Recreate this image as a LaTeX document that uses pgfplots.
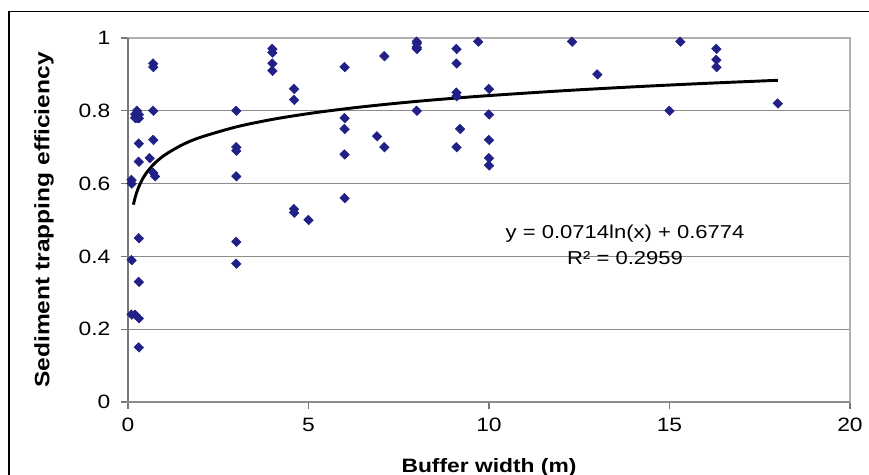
\documentclass[border=0pt]{standalone}
\usepackage{fontspec}
\setmainfont{Liberation Sans}[FakeStretch=1.18]
\usepackage{pgfplots}
\pgfplotsset{compat=1.18}

\definecolor{gridgray}{RGB}{140,140,140}
\definecolor{framegray}{RGB}{175,175,175}
\definecolor{axisgray}{RGB}{120,120,120}
\definecolor{navy}{RGB}{32,32,135}

\begin{document}
\fontsize{14.5}{19.5}\selectfont
\begin{tikzpicture}
\useasboundingbox (0,0) rectangle (651.75pt,356.25pt);
% outer chart frame (left and top edges visible)
\draw[black, line width=1.2pt] (6.6pt,-2pt) -- (6.6pt,347.6pt) -- (660pt,347.6pt);

\begin{axis}[
  at={(96pt,54.75pt)}, anchor=south west,
  scale only axis,
  width=541.5pt, height=273pt,
  xmin=0, xmax=20, ymin=0, ymax=1,
  xtick={0,5,10,15,20},
  ytick={0,0.2,0.4,0.6,0.8,1},
  xtick pos=bottom, ytick pos=left,
  tick align=outside,
  major tick length=5pt,
  tick style={axisgray, line width=0.9pt},
  ymajorgrids,
  grid style={gridgray, line width=1pt},
  axis line style={framegray, line width=1pt},
  /pgf/number format/assume math mode=true,
  ticklabel style={font=\fontsize{14.5}{17}\selectfont},
  yticklabel style={inner sep=0pt, xshift=-8pt},
  xticklabel style={inner sep=0pt, yshift=-7pt},
  xlabel={\bfseries Buffer width (m)},
  ylabel={\bfseries Sediment trapping efficiency},
  xlabel style={at={(axis description cs:0.5,-0.1786)}, anchor=center, inner sep=0pt},
  ylabel style={at={(axis description cs:-0.1163,0.5)}, anchor=center, inner sep=0pt,
    font=\fontsize{15.6}{18}\selectfont},
  clip=false,
]
% axis lines
\draw[axisgray, line width=1.1pt] (axis cs:0,0) -- (axis cs:0,1);
\draw[gridgray, line width=1.3pt] (axis cs:0,0) -- (axis cs:20,0);

\addplot[only marks, mark=square*, mark size=2.4pt,
  mark options={fill=navy, draw=navy, rotate=45, yscale=1.1}] coordinates {
  (0.1,0.61) (0.1,0.60) (0.1,0.39) (0.1,0.24)
  (0.2,0.79) (0.2,0.78) (0.2,0.24)
  (0.25,0.80) (0.25,0.78)
  (0.3,0.79) (0.3,0.78) (0.3,0.71) (0.3,0.66) (0.3,0.45) (0.3,0.33) (0.3,0.23) (0.3,0.15)
  (0.6,0.67)
  (0.7,0.93) (0.7,0.92) (0.7,0.80) (0.7,0.72) (0.7,0.63) (0.75,0.62)
  (3,0.80) (3,0.70) (3,0.69) (3,0.62) (3,0.44) (3,0.38)
  (4,0.97) (4,0.96) (4,0.93) (4,0.91)
  (4.6,0.86) (4.6,0.83) (4.6,0.53) (4.6,0.52)
  (5,0.50)
  (6,0.92) (6,0.78) (6,0.75) (6,0.68) (6,0.56)
  (6.9,0.73) (7.1,0.95) (7.1,0.70)
  (8,0.99) (8,0.985) (8,0.975) (8,0.97) (8,0.80)
  (9.1,0.97) (9.1,0.93) (9.1,0.85) (9.1,0.84) (9.2,0.75) (9.1,0.70)
  (9.7,0.99)
  (10,0.86) (10,0.79) (10,0.72) (10,0.67) (10,0.65)
  (12.3,0.99) (13,0.90) (15,0.80) (15.3,0.99)
  (16.3,0.97) (16.3,0.94) (16.3,0.92) (18,0.82)
};

% logarithmic trendline, values tabulated from y = 0.0714 ln(x) + 0.6774
\addplot[black, line width=2.2pt, smooth] coordinates {
  (0.15,0.5420) (0.2,0.5625) (0.25,0.5784) (0.3,0.5914) (0.4,0.6120)
  (0.5,0.6279) (0.7,0.6519) (1,0.6774) (1.5,0.7064) (2,0.7269)
  (3,0.7558) (4,0.7764) (5,0.7923) (6,0.8053) (7,0.8163) (8,0.8259)
  (9,0.8343) (10,0.8418) (12,0.8548) (14,0.8658) (16,0.8754) (18,0.8838)
};

\node[align=center, inner sep=0pt, font=\fontsize{14}{19.5}\selectfont]
  at (axis cs:13.77,0.432) {y = 0.0714ln(x) + 0.6774\\R² = 0.2959};
\end{axis}
\end{tikzpicture}
\end{document}
